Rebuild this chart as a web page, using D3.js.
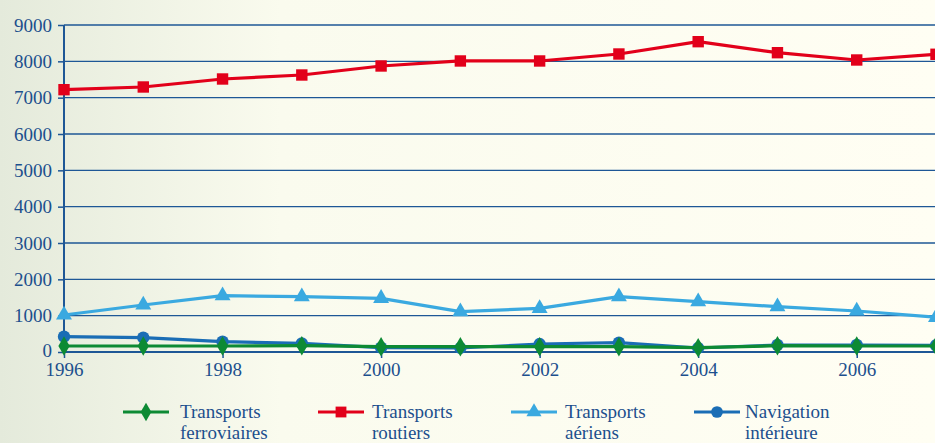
<!DOCTYPE html>
<html>
<head>
<meta charset="utf-8">
<script src="https://cdn.jsdelivr.net/npm/d3@7"></script>
<style>
  body { margin: 0; padding: 0; overflow: hidden; }
  svg { display: block; }
</style>
</head>
<body>
<script>
// Years and series values
var years = [1996, 1997, 1998, 1999, 2000, 2001, 2002, 2003, 2004, 2005, 2006, 2007];
var ferroviaires = [165, 165, 165, 173, 146, 146, 146, 146, 119, 173, 165, 165];
var routiers = [7220, 7294, 7514, 7624, 7872, 8010, 8010, 8202, 8541, 8238, 8037, 8194];
var aeriens = [1018, 1294, 1550, 1522, 1478, 1110, 1202, 1522, 1385, 1248, 1128, 955];
var navigation = [421, 394, 284, 239, 119, 110, 220, 256, 110, 193, 193, 180];
var yTicks = [0, 1000, 2000, 3000, 4000, 5000, 6000, 7000, 8000, 9000];
var xTicks = [1996, 1998, 2000, 2002, 2004, 2006];
var seriesNames = [["Transports", "ferroviaires"], ["Transports", "routiers"], ["Transports", "aériens"], ["Navigation", "intérieure"]];

var W = 935, H = 443;
var textColor = "#1c4f8d";
var gridColor = "#1e5796";
var serif = "'Liberation Serif', 'Times New Roman', serif";

var svg = d3.select("body").append("svg")
    .attr("width", W)
    .attr("height", H);

// Background gradient (greyish green on the left, cream on the right)
var defs = svg.append("defs");
var grad = defs.append("linearGradient").attr("id", "bg")
    .attr("x1", "0%").attr("x2", "100%").attr("y1", "0%").attr("y2", "0%");
grad.append("stop").attr("offset", "0%").attr("stop-color", "#e4eadb");
grad.append("stop").attr("offset", "30%").attr("stop-color", "#fafbee");
grad.append("stop").attr("offset", "100%").attr("stop-color", "#fffef3");
svg.append("rect").attr("width", W).attr("height", H).attr("fill", "url(#bg)");

var x = d3.scaleLinear().domain([1996, 2007]).range([64, 936]);
var y = d3.scaleLinear().domain([0, 9000]).range([352, 25]);

// horizontal grid lines
svg.append("g")
    .selectAll("line")
    .data(yTicks.slice(1))
    .enter().append("line")
    .attr("x1", 64).attr("x2", W)
    .attr("y1", function(d) { return y(d); })
    .attr("y2", function(d) { return y(d); })
    .attr("stroke", gridColor)
    .attr("stroke-width", 1.3);

// Y axis
var yAxis = svg.append("g")
    .attr("transform", "translate(64,0)")
    .call(d3.axisLeft(y).tickValues(yTicks).tickSize(6).tickPadding(6).tickFormat(d3.format("d")));
yAxis.select(".domain").attr("stroke", gridColor).attr("stroke-width", 2).attr("d", "M0,352V25");
yAxis.selectAll(".tick line").attr("stroke", gridColor).attr("stroke-width", 1.5);
yAxis.selectAll(".tick text")
    .attr("fill", textColor)
    .style("font-family", serif)
    .style("font-size", "19px");
// lift the zero label a touch so it clears the first year label
yAxis.selectAll(".tick text").filter(function(d) { return d === 0; }).attr("dy", "0.22em");

// X axis
var xAxis = svg.append("g")
    .attr("transform", "translate(0,352)")
    .call(d3.axisBottom(x).tickValues(xTicks).tickSize(6).tickPadding(5).tickFormat(d3.format("d")));
xAxis.select(".domain").attr("stroke", gridColor).attr("stroke-width", 2.2).attr("d", "M64,0H935");
xAxis.selectAll(".tick line").attr("stroke", gridColor).attr("stroke-width", 1.5);
xAxis.selectAll(".tick text")
    .attr("fill", textColor)
    .style("font-family", serif)
    .style("font-size", "19px");

// series
var series = [
    { vals: ferroviaires, color: "#0d8a34", shape: d3.symbolDiamond, size: 110 },
    { vals: routiers, color: "#e2001a", shape: d3.symbolSquare, size: 130 },
    { vals: aeriens, color: "#3aa9e0", shape: d3.symbolTriangle, size: 110 },
    { vals: navigation, color: "#1a6db5", shape: d3.symbolCircle, size: 120 }
];
var drawOrder = [2, 3, 0, 1];

var line = d3.line()
    .x(function(d, i) { return x(years[i]); })
    .y(function(d) { return y(d); });

var plot = svg.append("g");
drawOrder.forEach(function(k) {
    var s = series[k];
    plot.append("path")
        .datum(s.vals)
        .attr("d", line)
        .attr("fill", "none")
        .attr("stroke", s.color)
        .attr("stroke-width", 3.2)
        .attr("stroke-linejoin", "round");
    plot.selectAll(".m" + k)
        .data(s.vals)
        .enter().append("path")
        .attr("class", "m" + k)
        .attr("transform", function(d, i) { return "translate(" + x(years[i]) + "," + y(d) + ")"; })
        .attr("d", d3.symbol().type(s.shape).size(s.size))
        .attr("fill", s.color);
});

// legend
var legendX = [123, 318, 511, 694];
var textDx = [57, 54, 54, 51];
var legend = svg.append("g");
series.forEach(function(s, k) {
    var g = legend.append("g").attr("transform", "translate(" + legendX[k] + ",412)");
    g.append("line").attr("x1", 0).attr("x2", 46).attr("y1", 0).attr("y2", 0)
        .attr("stroke", s.color).attr("stroke-width", 3.2);
    g.append("path").attr("transform", "translate(23,0)")
        .attr("d", d3.symbol().type(s.shape).size(s.size * 0.9))
        .attr("fill", s.color);
    var t = g.append("text")
        .attr("x", textDx[k])
        .attr("y", 6)
        .attr("fill", textColor)
        .style("font-family", serif)
        .style("font-size", "19px");
    t.append("tspan").text(seriesNames[k][0]);
    t.append("tspan").attr("x", textDx[k]).attr("dy", 21).text(seriesNames[k][1]);
});
</script>
</body>
</html>
